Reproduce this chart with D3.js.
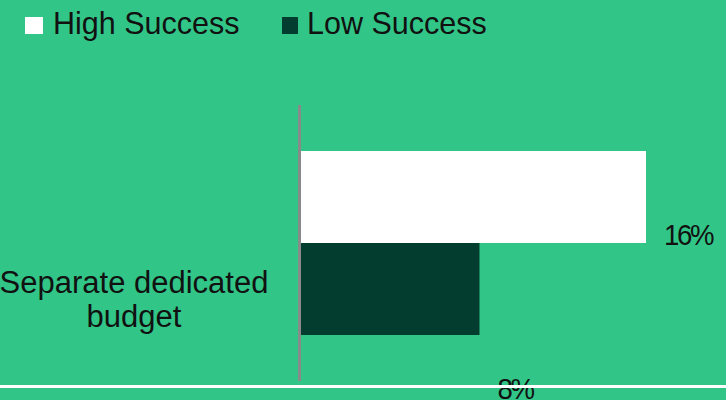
<!DOCTYPE html>
<html>
<head>
<meta charset="utf-8">
<script src="https://cdn.jsdelivr.net/npm/d3@7"></script>
<style>
  html, body { margin: 0; padding: 0; background: #31c687; }
  svg { display: block; font-family: "Liberation Sans", Arial, sans-serif; }
</style>
</head>
<body>
<svg id="chart" width="726" height="400"></svg>
<script>
const categories = ["Separate dedicated budget"];
const seriesNames = ["High Success", "Low Success"];
const seriesColors = ["#ffffff", "#023d2f"];
const highValues = [16];
const lowValues = [8.3];

const W = 726, H = 400;
const svg = d3.select("#chart");
svg.append("rect").attr("width", W).attr("height", H).attr("fill", "#31c687");

const x = d3.scaleLinear().domain([0, 20]).range([300, 300 + 432.5]);
const y = d3.scaleBand().domain(categories).range([105, 381]).padding(0.2);
const y1 = d3.scaleBand().domain(seriesNames).range([0, y.bandwidth()]);

const rows = categories.map((c, i) => ({
  cat: c,
  vals: [{ s: seriesNames[0], v: highValues[i] }, { s: seriesNames[1], v: lowValues[i] }]
}));

const fmt = d => d3.format(".0f")(d) + "%";
// vertical offset of the value labels below the top of each bar (as in reference)
const labelDy = [94, 156];

const g = svg.append("g");
rows.forEach(r => {
  r.vals.forEach((d, j) => {
    g.append("rect")
      .attr("x", x(0))
      .attr("y", y(r.cat) + y1(d.s))
      .attr("width", x(d.v) - x(0))
      .attr("height", y1.bandwidth())
      .attr("fill", seriesColors[j]);
  });
});

// axis line
svg.append("line")
  .attr("x1", 299.5).attr("x2", 299.5)
  .attr("y1", y.range()[0]).attr("y2", y.range()[1])
  .attr("stroke", "#8a8a8a").attr("stroke-width", 3);

// value labels
rows.forEach(r => {
  r.vals.forEach((d, j) => {
    const lx = x(d.v) + 18;
    const ly = y(r.cat) + y1(d.s) + labelDy[j];
    svg.append("text")
      .attr("transform", `translate(${lx},${ly}) scale(0.92,1)`)
      .attr("font-size", 30)
      .attr("letter-spacing", "-2.5px")
      .attr("fill", "#111")
      .text(fmt(d.v));
  });
});

// category labels (wrapped)
rows.forEach(r => {
  const t = svg.append("text")
    .attr("text-anchor", "middle")
    .attr("font-size", 31)
    .attr("fill", "#111");
  const lines = ["Separate dedicated", "budget"];
  const cy = y(r.cat) + y.bandwidth() / 2;
  lines.forEach((ln, k) => {
    t.append("tspan").attr("x", 134).attr("y", cy + 50 + k * 34).text(ln);
  });
});

// bottom white rule
svg.append("line")
  .attr("x1", 0).attr("x2", W)
  .attr("y1", 386.5).attr("y2", 386.5)
  .attr("stroke", "#ffffff").attr("stroke-width", 3);

// legend
const legX = [25, 282];
const legend = svg.append("g");
seriesNames.forEach((s, i) => {
  legend.append("rect")
    .attr("x", legX[i]).attr("y", 17)
    .attr("width", i === 0 ? 18 : 16).attr("height", 17)
    .attr("fill", seriesColors[i]);
  legend.append("text")
    .attr("x", legX[i] + (i === 0 ? 28 : 25))
    .attr("y", 34)
    .attr("font-size", 30.5)
    .attr("fill", "#111")
    .text(s);
});
</script>
</body>
</html>
